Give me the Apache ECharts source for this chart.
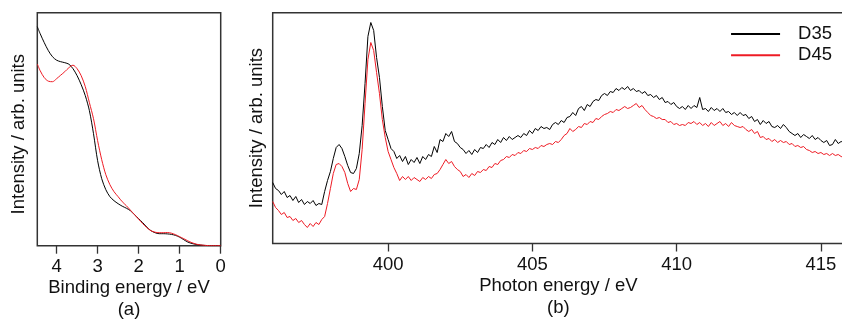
<!DOCTYPE html>
<html><head><meta charset="utf-8">
<script src="https://cdn.jsdelivr.net/npm/echarts@6/dist/echarts.min.js"></script>
<style>html,body{margin:0;padding:0;background:#fff}#c{width:842px;height:320px}</style>
</head><body><div id="c"></div>
<script>
// ---- Panel (a): valence band ----
const bindingEnergy = [4.47,4.4,4.3,4.2,4.1,4.0,3.9,3.8,3.7,3.6,3.5,3.4,3.3,3.2,3.1,3.0,2.9,2.8,2.7,2.6,2.5,2.4,2.3,2.2,2.1,2.0,1.9,1.8,1.7,1.6,1.5,1.4,1.3,1.2,1.1,1.0,0.9,0.8,0.7,0.6,0.5,0.4,0.3,0.2,0.1,0.0];
const vbD35 = [219,212,203,195,189,185.5,184,183,181.5,177,170,161,150,135,112,85,67,56,49,45,42,39.5,37.5,35,31,27,23,18.5,15,13,12,12,11.8,11.3,10.3,8.5,6,3.6,2.2,1.3,0.7,0.3,0.1,0,0,0];
const vbD45 = [181.7,175,168,164.5,164,167,170.5,174,178,180.5,177,170,159,143,127,105,86,71,61,54,49,44,40,35.5,31,26.5,22,18,15,13.5,13,13,13.2,12.5,11,9,7,4.8,3,1.6,0.8,0.4,0.1,0,0,0];
const bindingTicks = [0,1,2,3,4];

// ---- Panel (b): N K-edge spectra ----
const photonEnergy = [
396.0,396.1,396.2,396.3,396.4,396.5,396.6,396.7,396.8,396.9,
397.0,397.1,397.2,397.3,397.4,397.5,397.6,397.7,397.8,397.9,
398.0,398.1,398.2,398.3,398.4,398.5,398.6,398.7,398.8,398.9,
399.0,399.1,399.2,399.3,399.4,399.5,399.6,399.7,399.8,399.9,
400.0,400.1,400.2,400.3,400.4,400.5,400.6,400.7,400.8,400.9,
401.0,401.1,401.2,401.3,401.4,401.5,401.6,401.7,401.8,401.9,
402.0,402.1,402.2,402.3,402.4,402.5,402.6,402.7,402.8,402.9,
403.0,403.1,403.2,403.3,403.4,403.5,403.6,403.7,403.8,403.9,
404.0,404.1,404.2,404.3,404.4,404.5,404.6,404.7,404.8,404.9,
405.0,405.1,405.2,405.3,405.4,405.5,405.6,405.7,405.8,405.9,
406.0,406.1,406.2,406.3,406.4,406.5,406.6,406.7,406.8,406.9,
407.0,407.1,407.2,407.3,407.4,407.5,407.6,407.7,407.8,407.9,
408.0,408.1,408.2,408.3,408.4,408.5,408.6,408.7,408.8,408.9,
409.0,409.1,409.2,409.3,409.4,409.5,409.6,409.7,409.8,409.9,
410.0,410.1,410.2,410.3,410.4,410.5,410.6,410.7,410.8,410.9,
411.0,411.1,411.2,411.3,411.4,411.5,411.6,411.7,411.8,411.9,
412.0,412.1,412.2,412.3,412.4,412.5,412.6,412.7,412.8,412.9,
413.0,413.1,413.2,413.3,413.4,413.5,413.6,413.7,413.8,413.9,
414.0,414.1,414.2,414.3,414.4,414.5,414.6,414.7,414.8,414.9,
415.0,415.1,415.2,415.3,415.4,415.5,415.6,415.7,415.8];
const xasD35 = [
61,55,53,49,52,46,48,43,47,41,
44,39,42,40,43,38,40,39,52,63,
72,85,96,99,95,87,78,71,70,75,
90,118,160,207,221,213,186,166,137,113,
104,95,92,85,88,82,87,79,84,81,
86,80,87,84,89,87,97,91,104,102,
110,107,112,102,100,96,94,90,93,89,
94,91,96,95,99,96,101,99,104,101,
106,103,107,104,106,108,106,110,108,113,
110,115,113,117,115,116,114,119,121,119,
123,121,126,127,131,128,135,137,133,139,
137,142,144,143,148,150,148,152,151,155,
153,156,154,157,153,155,152,153,150,152,
148,149,146,148,144,146,141,142,139,141,
137,135,137,134,138,135,138,136,146,134,
135,132,136,133,135,132,135,131,132,129,
131,128,131,128,129,125,127,122,124,119,
123,120,122,117,116,118,115,119,116,112,
110,108,110,106,109,107,105,108,104,106,
103,101,103,98,99,104,100,102,101];
const xasD45 = [
42,36,33,29,31,26,27,23,25,21,
23,19,16,20,17,21,19,24,27,40,
55,70,79,80,77,71,60,52,55,54,
64,94,140,184,201,193,171,150,124,106,
92,84,76,70,63,67,64,67,63,66,
64,62,66,64,67,65,69,70,74,79,
84,80,82,77,74,72,67,69,66,70,
68,72,71,74,73,77,76,80,79,83,
84,87,86,89,88,91,90,93,92,95,
94,96,95,98,97,99,100,99,102,101,
104,108,110,115,112,114,117,116,120,119,
122,121,125,124,127,129,130,132,131,134,
133,135,137,135,136,138,140,136,138,134,
131,128,127,125,126,124,124,121,122,119,
120,118,119,118,121,120,122,119,121,118,
120,117,121,118,120,122,118,120,117,121,
118,117,116,117,114,112,114,110,112,106,
107,104,105,102,104,101,103,101,102,99,
100,97,98,96,97,94,93,91,92,90,
91,89,90,88,90,88,89,87,86];
const photonTicks = [400,405,410,415];
const seriesNames = ['D35','D45'];
const seriesColors = ['#000000','#ee1b24'];

const FONT = 'Liberation Sans';
const FS = 18.5;
const pairs = (xs, ys) => xs.map((x, i) => [x, ys[i]]);

const chart = echarts.init(document.getElementById('c'), null, {renderer: 'canvas'});
const axisTickStyle = {show: true, length: 8, inside: false, lineStyle: {color: '#333', width: 1.3}};
chart.setOption({
  animation: false,
  backgroundColor: '#fff',
  textStyle: {fontFamily: FONT},
  grid: [
    {left: 37.3, right: 621.3, top: 12.7, bottom: 74.3, show: true, borderColor: '#333', borderWidth: 1.5,
     backgroundColor: 'transparent', containLabel: false, outerBoundsMode: 'none'},
    {left: 272.7, right: -2, top: 12.7, bottom: 76.5, show: true, borderColor: '#333', borderWidth: 1.5,
     backgroundColor: 'transparent', containLabel: false, outerBoundsMode: 'none'}
  ],
  legend: {
    data: seriesNames, orient: 'vertical', right: 5, top: 19.5,
    itemWidth: 49, itemHeight: 18, itemGap: 2.2,
    itemStyle: {opacity: 0},
    textStyle: {fontFamily: FONT, fontSize: FS, color: '#111', padding: [0, 0, 0, 13]}
  },
  xAxis: [
    {gridIndex: 0, type: 'value', min: 0, max: 4.47, inverse: true,
     axisLine: {show: false}, splitLine: {show: false},
     axisTick: Object.assign({customValues: bindingTicks}, axisTickStyle),
     axisLabel: {customValues: bindingTicks, margin: 12, fontFamily: FONT, fontSize: FS, color: '#111'},
     name: 'Binding energy / eV\n(a)', nameLocation: 'middle', nameGap: 31.3, nameMoveOverlap: false,
     nameTextStyle: {fontFamily: FONT, fontSize: FS, color: '#111', lineHeight: 22}},
    {gridIndex: 1, type: 'value', min: 396, max: 415.8,
     axisLine: {show: false}, splitLine: {show: false},
     axisTick: Object.assign({customValues: photonTicks}, axisTickStyle),
     axisLabel: {customValues: photonTicks, margin: 12, fontFamily: FONT, fontSize: FS, color: '#111'},
     name: 'Photon energy / eV\n(b)', nameLocation: 'middle', nameGap: 31.3, nameMoveOverlap: false,
     nameTextStyle: {fontFamily: FONT, fontSize: FS, color: '#111', lineHeight: 22}}
  ],
  yAxis: [
    {gridIndex: 0, type: 'value', min: 0, max: 233,
     axisLine: {show: false}, axisTick: {show: false}, axisLabel: {show: false}, splitLine: {show: false},
     name: '{p|Intensity / arb. units}', nameLocation: 'middle', nameGap: 9.3, nameMoveOverlap: false,
     nameTextStyle: {fontFamily: FONT, fontSize: FS, color: '#111',
       rich: {p: {fontFamily: FONT, fontSize: FS, color: '#111', padding: [0, 10, 0, 0]}}}},
    {gridIndex: 1, type: 'value', min: 0, max: 230.8,
     axisLine: {show: false}, axisTick: {show: false}, axisLabel: {show: false}, splitLine: {show: false},
     name: 'Intensity / arb. units', nameLocation: 'middle', nameGap: 6.5, nameMoveOverlap: false,
     nameTextStyle: {fontFamily: FONT, fontSize: FS, color: '#111'}}
  ],
  series: [
    {name: seriesNames[0], type: 'line', xAxisIndex: 0, yAxisIndex: 0, data: pairs(bindingEnergy, vbD35),
     smooth: 0.3, showSymbol: false, symbol: 'none', lineStyle: {color: seriesColors[0], width: 1}, itemStyle: {color: seriesColors[0]}},
    {name: seriesNames[1], type: 'line', xAxisIndex: 0, yAxisIndex: 0, data: pairs(bindingEnergy, vbD45),
     smooth: 0.3, showSymbol: false, symbol: 'none', lineStyle: {color: seriesColors[1], width: 1}, itemStyle: {color: seriesColors[1]}},
    {name: seriesNames[0], type: 'line', xAxisIndex: 1, yAxisIndex: 1, data: pairs(photonEnergy, xasD35),
     showSymbol: false, symbol: 'none', lineStyle: {color: seriesColors[0], width: 1}, itemStyle: {color: seriesColors[0]}},
    {name: seriesNames[1], type: 'line', xAxisIndex: 1, yAxisIndex: 1, data: pairs(photonEnergy, xasD45),
     showSymbol: false, symbol: 'none', lineStyle: {color: seriesColors[1], width: 1}, itemStyle: {color: seriesColors[1]}}
  ]
});
</script></body></html>
